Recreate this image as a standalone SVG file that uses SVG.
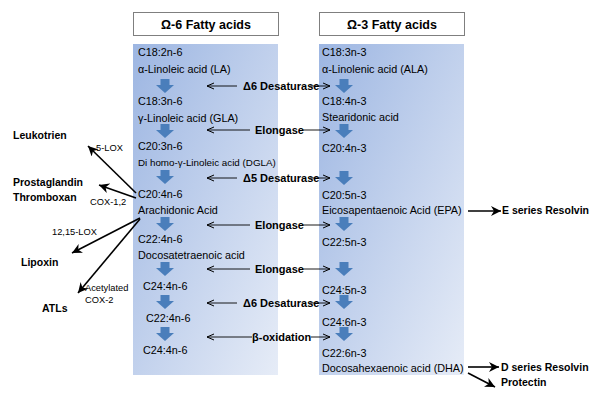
<svg xmlns="http://www.w3.org/2000/svg" width="600" height="402" viewBox="0 0 600 402">
<defs>
<linearGradient id="pg" x1="0" y1="0" x2="1" y2="1">
<stop offset="0" stop-color="#9db6e2"/>
<stop offset="1" stop-color="#e6ecf7"/>
</linearGradient>
<marker id="open" markerWidth="10" markerHeight="8" refX="8" refY="4" orient="auto" markerUnits="userSpaceOnUse">
<path d="M1,1 L8,4 L1,7" fill="none" stroke="#000" stroke-width="1"/>
</marker>
<marker id="solid" markerWidth="12" markerHeight="10" refX="10" refY="5" orient="auto" markerUnits="userSpaceOnUse">
<path d="M0,0 L10,5 L0,10 L3,5 Z" fill="#000"/>
</marker>
<path id="barrow" d="M-4.5,0 H4.5 V6 H9 L0,14 L-9,6 H-4.5 Z"/>
</defs>
<style>
text{font-family:"Liberation Sans",Arial,sans-serif;fill:#000}
.t{font-size:10.8px}
.s{font-size:9.8px}
.enz{font-size:11px;font-weight:bold}
.hd{font-size:12.5px;font-weight:bold}
.side{font-size:10.5px;font-weight:bold}
.lbl{font-size:9.3px}
.box{fill:#fff;stroke:#7f7f7f;stroke-width:1}
.panel{fill:url(#pg)}
.ba{fill:#4a7ebb}
.thin{stroke:#000;stroke-width:0.9;fill:none;marker-end:url(#open)}
.thick{stroke:#000;stroke-width:1.6;fill:none;marker-end:url(#solid)}
</style>
<rect width="600" height="402" fill="#fff"/>

<g id="omega6-header"><rect class="box" x="133.5" y="12.5" width="145" height="23"/><text class="hd" x="206" y="28.5" text-anchor="middle">Ω-6 Fatty acids</text></g>
<g id="omega3-header"><rect class="box" x="319.5" y="12.5" width="145" height="23"/><text class="hd" x="392" y="28.5" text-anchor="middle">Ω-3 Fatty acids</text></g>

<g id="omega6-panel">
<rect class="panel" x="133" y="44" width="145" height="331"/>
<text class="t" x="138" y="56">C18:2n-6</text>
<text class="t" x="138" y="73">α-Linoleic acid (LA)</text>
<use href="#barrow" class="ba" x="165" y="79"/>
<text class="t" x="138" y="105">C18:3n-6</text>
<text class="t" x="138" y="122">γ-Linoleic acid (GLA)</text>
<use href="#barrow" class="ba" x="165" y="124"/>
<text class="t" x="138" y="150">C20:3n-6</text>
<text class="s" x="138" y="166">Di homo-γ-Linoleic acid (DGLA)</text>
<use href="#barrow" class="ba" x="165" y="170"/>
<text class="t" x="138" y="198">C20:4n-6</text>
<text class="t" x="138" y="214">Arachidonic Acid</text>
<use href="#barrow" class="ba" x="165" y="217"/>
<text class="t" x="138" y="243">C22:4n-6</text>
<text class="t" x="138" y="259">Docosatetraenoic acid</text>
<use href="#barrow" class="ba" x="165" y="262"/>
<text class="t" x="143" y="290">C24:4n-6</text>
<use href="#barrow" class="ba" x="165" y="295"/>
<text class="t" x="146" y="322">C22:4n-6</text>
<use href="#barrow" class="ba" x="165" y="327"/>
<text class="t" x="143" y="354">C24:4n-6</text>
</g>

<g id="omega3-panel">
<rect class="panel" x="319" y="44" width="145" height="331"/>
<text class="t" x="322" y="56">C18:3n-3</text>
<text class="t" x="322" y="73">α-Linolenic acid (ALA)</text>
<use href="#barrow" class="ba" x="344" y="79"/>
<text class="t" x="322" y="105">C18:4n-3</text>
<text class="t" x="322" y="121">Stearidonic acid</text>
<use href="#barrow" class="ba" x="344" y="124"/>
<text class="t" x="322" y="152">C20:4n-3</text>
<use href="#barrow" class="ba" x="344" y="171"/>
<text class="t" x="322" y="199">C20:5n-3</text>
<text class="t" x="322" y="214">Eicosapentaenoic Acid (EPA)</text>
<use href="#barrow" class="ba" x="344" y="217"/>
<text class="t" x="322" y="246">C22:5n-3</text>
<use href="#barrow" class="ba" x="344" y="262"/>
<text class="t" x="322" y="294">C24:5n-3</text>
<use href="#barrow" class="ba" x="344" y="295"/>
<text class="t" x="322" y="326">C24:6n-3</text>
<use href="#barrow" class="ba" x="344" y="327"/>
<text class="t" x="322" y="357">C22:6n-3</text>
<text class="t" x="322" y="372">Docosahexaenoic acid (DHA)</text>
</g>

<g id="enzymes">
<text class="enz" x="243" y="90">Δ6 Desaturase</text>
<text class="enz" x="255" y="134">Elongase</text>
<text class="enz" x="243" y="182">Δ5 Desaturase</text>
<text class="enz" x="255" y="229">Elongase</text>
<text class="enz" x="255" y="273">Elongase</text>
<text class="enz" x="243" y="307">Δ6 Desaturase</text>
<text class="enz" x="252" y="341">β-oxidation</text>
</g>

<g id="products">
<text class="side" x="13" y="139">Leukotrien</text>
<text class="side" x="13" y="186">Prostaglandin</text>
<text class="side" x="13" y="201">Thromboxan</text>
<text class="side" x="21" y="266">Lipoxin</text>
<text class="side" x="42" y="312">ATLs</text>
<text class="lbl" x="96" y="151">5-LOX</text>
<text class="lbl" x="90" y="205">COX-1,2</text>
<text class="lbl" x="52" y="235">12,15-LOX</text>
<text class="lbl" x="85" y="291">Acetylated</text>
<text class="lbl" x="85" y="303">COX-2</text>
<text class="side" x="502" y="214">E series Resolvin</text>
<text class="side" x="501" y="371">D series Resolvin</text>
<text class="side" x="501" y="386">Protectin</text>
</g>

<g id="connectors">
<path class="thin" d="M237,86 H207"/>
<path class="thin" d="M310,86 H330"/>
<path class="thin" d="M250,130 H207"/>
<path class="thin" d="M302,130 H330"/>
<path class="thin" d="M237,178 H207"/>
<path class="thin" d="M310,178 H330"/>
<path class="thin" d="M250,225 H207"/>
<path class="thin" d="M302,225 H330"/>
<path class="thin" d="M250,269 H207"/>
<path class="thin" d="M302,269 H330"/>
<path class="thin" d="M237,303 H207"/>
<path class="thin" d="M310,303 H330"/>
<path class="thin" d="M252,337 H207"/>
<path class="thin" d="M311,337 H330"/>
<path class="thick" d="M136,193 L88,146"/>
<path class="thick" d="M136,198 L99,185"/>
<path class="thick" d="M140,218 L72,253"/>
<path class="thick" d="M140,219 L78,293"/>
<path class="thick" d="M468,211 H501"/>
<path class="thick" d="M468,367 H499"/>
<path class="thick" d="M468,373 L495,387"/>
</g>
</svg>
